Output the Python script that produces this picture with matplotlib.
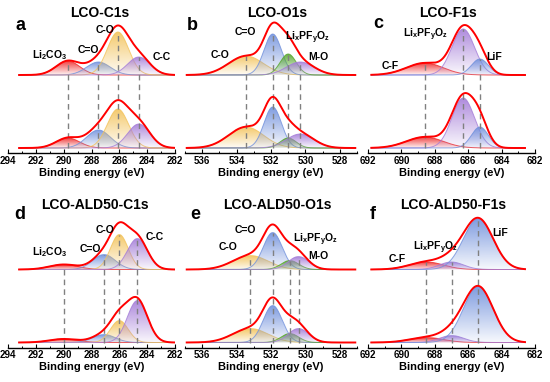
import numpy as np
import matplotlib
matplotlib.use("Agg")
from matplotlib import pyplot as plt
from matplotlib.colors import to_rgb
from matplotlib.patches import Polygon

plt.rcParams["font.family"] = ["Liberation Sans", "DejaVu Sans"]
plt.rcParams["mathtext.fontset"] = "custom"
plt.rcParams["mathtext.rm"] = "Liberation Sans:bold"
plt.rcParams["mathtext.it"] = "Liberation Sans:bold"
plt.rcParams["mathtext.bf"] = "Liberation Sans:bold"

# ---- peak fit parameters (height in px above baseline) ----
# C1s components: Li2CO3, C=O, C-O, C-C
a_center = [289.7, 287.5, 286.1, 284.6]
a_fwhm = [2.0, 2.0, 1.8, 1.9]
a_top = [14, 13, 43, 18]
a_bot = [10, 18, 39, 24]

d_center = [290.0, 287.1, 286.0, 284.7]
d_fwhm = [2.4, 1.9, 1.5, 1.7]
d_top = [5, 15, 35, 31]
d_bot = [3.5, 8, 22, 42]

# O1s components: C-O, C=O, LixPFyOz, M-O
b_center = [533.45, 531.9, 531.0, 530.3]
b_fwhm = [2.4, 1.2, 1.1, 1.9]
b_top = [19, 41, 21, 13]
b_bot = [21, 41, 10, 14]

e_center = [533.2, 531.9, 530.9, 530.4]
e_fwhm = [2.4, 1.3, 1.2, 1.4]
e_top = [14, 37, 9, 13]
e_bot = [14, 37, 9, 14]

# F1s components: C-F, LixPFyOz, LiF
c_center = [688.6, 686.3, 685.3]
c_fwhm = [2.6, 1.6, 1.2]
c_top = [12, 46, 16]
c_bot = [11, 50, 21]

f_center = [688.5, 687.0, 685.4]
f_fwhm = [2.4, 1.7, 2.1]
f_top = [7.5, 7.5, 51]
f_bot = [5, 7, 56]

RED = "#ee2a2a"
BLUE = "#7090dc"
YELLOW = "#f3c35a"
PURPLE = "#a47cd8"
GREEN = "#55a52c"

c1s_colors = [RED, BLUE, YELLOW, PURPLE]
o1s_colors = [YELLOW, BLUE, GREEN, PURPLE]
f1s_colors = [RED, PURPLE, BLUE]

W, H = 550, 382
fig = plt.figure(figsize=(5.5, 3.82), dpi=100)


def px_axes(x0, x1, y0, y1):
    return fig.add_axes([x0 / W, 1 - y1 / H, (x1 - x0) / W, (y1 - y0) / H])


def ftext(x, y, s, size, **kw):
    fig.text(x / W, 1 - y / H, s, fontsize=size, fontweight="bold",
             ha=kw.pop("ha", "center"), va=kw.pop("va", "center"), **kw)


def gauss(x, c, h, fwhm):
    s = fwhm / 2.3548
    return h * np.exp(-(x - c) ** 2 / (2 * s * s))


def grad_fill(ax, x, y, base, color, z):
    verts = np.column_stack([np.r_[x, x[::-1]], np.r_[y, np.full_like(x, base)]])
    patch = Polygon(verts, closed=True, fc="none", ec="none")
    ax.add_patch(patch)
    img = np.zeros((64, 1, 4))
    img[..., :3] = to_rgb(color)
    img[:, 0, 3] = np.linspace(0.88, 0.05, 64)
    im = ax.imshow(img, extent=(x.max(), x.min(), base, y.max()), aspect="auto",
                   origin="upper", zorder=z, interpolation="bilinear")
    im.set_clip_path(patch)
    ax.plot(x, y, color=color, lw=0.7, alpha=0.8, zorder=z + 0.1)


def panel(ax, lim, rng, centers, fwhm, top, bot, colors, ytop):
    x = np.linspace(rng[0], rng[1], 400)
    for base, hs in [(78, top), (5, bot)]:
        env = np.zeros_like(x)
        for i, (c, h, w) in enumerate(zip(centers, hs, fwhm)):
            y = gauss(x, c, h, w)
            env += y
            grad_fill(ax, x, base + y, base, colors[i], 2 + i)
        ax.plot(x, base + env, color="#ff0000", lw=1.4, zorder=10)
    for c, h in zip(centers, top):
        ax.vlines(c, 5, 78 + h, color="#808080", lw=1, linestyles=(0, (4, 3)), zorder=9)
    ax.set_xlim(lim)
    ax.set_ylim(0, ytop)
    for s in ["left", "right", "top"]:
        ax.spines[s].set_visible(False)
    ax.spines["bottom"].set_linewidth(1)
    ax.set_yticks([])
    lo, hi = min(lim), max(lim)
    ax.set_xticks([v for v in range(int(lo), int(hi) + 1) if v % 2 == 0])
    ax.set_xticks(np.arange(lo, hi + 0.1, 1), minor=True)
    ax.tick_params(axis="x", which="major", direction="in", length=3, width=0.8,
                   labelsize=7, pad=2)
    ax.tick_params(axis="x", which="minor", direction="in", length=1.5, width=0.7)
    for t in ax.get_xticklabels():
        t.set_fontweight("bold")
    ax.patch.set_alpha(0)


cols = [(8, 175, (294, 282), (293.2, 282.0)),
        (185, 357, (537, 527), (536.9, 527.1)),
        (368, 535, (692, 682), (691.8, 682.6))]
rows = [(18, 153), (213, 347.5)]

params = [
    [(a_center, a_fwhm, a_top, a_bot, c1s_colors),
     (b_center, b_fwhm, b_top, b_bot, o1s_colors),
     (c_center, c_fwhm, c_top, c_bot, f1s_colors)],
    [(d_center, d_fwhm, d_top, d_bot, c1s_colors),
     (e_center, e_fwhm, e_top, e_bot, o1s_colors),
     (f_center, f_fwhm, f_top, f_bot, f1s_colors)],
]

for r, (y0, y1) in enumerate(rows):
    for k, (x0, x1, lim, rng) in enumerate(cols):
        ax = px_axes(x0, x1, y0, y1)
        panel(ax, lim, rng, *params[r][k], ytop=y1 - y0)
        ftext((x0 + x1) / 2, y1 + 20, "Binding energy (eV)", 8)

# titles and panel letters
ftext(100, 13, "LCO-C1s", 10)
ftext(277, 13, "LCO-O1s", 10)
ftext(448, 13, "LCO-F1s", 10)
ftext(95, 205, "LCO-ALD50-C1s", 10)
ftext(277, 205, "LCO-ALD50-O1s", 10)
ftext(453, 205, "LCO-ALD50-F1s", 10)
ftext(21, 25, "a", 13)
ftext(192, 25, "b", 13)
ftext(378, 23, "c", 13)
ftext(20, 215, "d", 13)
ftext(195, 215, "e", 13)
ftext(373, 215, "f", 13)

# peak labels
LIPF = r"Li$_\mathregular{x}$PF$_\mathregular{y}$O$_\mathregular{z}$"
LI2 = r"Li$_\mathregular{2}$CO$_\mathregular{3}$"
fs = 7.5
ftext(50, 55, LI2, fs)
ftext(88, 50, "C=O", fs)
ftext(105, 30, "C-O", fs)
ftext(162, 57, "C-C", fs)
ftext(245, 32, "C=O", fs)
ftext(220, 55, "C-O", fs)
ftext(307, 38, LIPF, fs)
ftext(318, 57, "M-O", fs)
ftext(425, 35, LIPF, fs)
ftext(390, 66, "C-F", fs)
ftext(494, 57, "LiF", fs)
ftext(50, 252, LI2, fs)
ftext(90, 249, "C=O", fs)
ftext(105, 230, "C-O", fs)
ftext(155, 237, "C-C", fs)
ftext(245, 230, "C=O", fs)
ftext(228, 247, "C-O", fs)
ftext(315, 240, LIPF, fs)
ftext(318, 256, "M-O", fs)
ftext(435, 248, LIPF, fs)
ftext(397, 259, "C-F", fs)
ftext(500, 233, "LiF", fs)

fig.savefig("out.png", dpi=100)
